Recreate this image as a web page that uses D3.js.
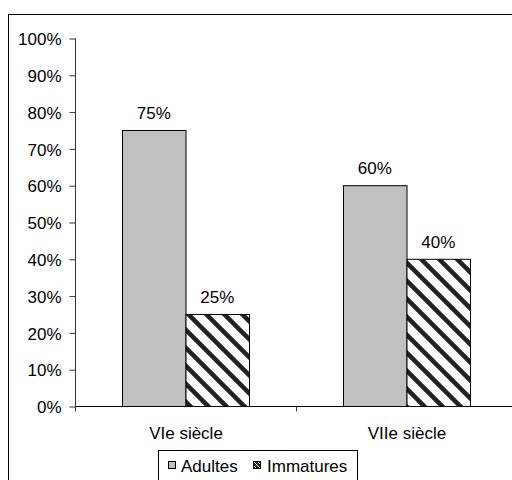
<!DOCTYPE html>
<html><head><meta charset="utf-8">
<script src="https://cdn.jsdelivr.net/npm/d3@7"></script>
<style>body{margin:0;background:#fff}svg{display:block}text{font-family:"Liberation Sans",Arial,sans-serif;fill:#000}</style>
</head><body>
<svg id="c" width="512" height="480"></svg>
<script>
const categories = ["VIe siècle", "VIIe siècle"];
const seriesNames = ["Adultes", "Immatures"];
const adultes = [75, 60];
const immatures = [25, 40];
const yTicks = [0,10,20,30,40,50,60,70,80,90,100];

(function(){
const FS = "17px";
const svg = d3.select("#c");
const defs = svg.append("defs");
const pat = defs.append("pattern").attr("id","hatch").attr("patternUnits","userSpaceOnUse")
  .attr("width",18).attr("height",18);
pat.append("rect").attr("width",18).attr("height",18).attr("fill","#fff");
pat.append("path").attr("d","M-5,-5 L23,23 M-5,13 L5,23 M13,-5 L23,5")
  .attr("stroke","#222").attr("stroke-width",4.5);

// outer border
svg.append("rect").attr("x",8.5).attr("y",14.5).attr("width",520).attr("height",480)
  .attr("fill","none").attr("stroke","#000");

const pL = 75, pR = 517, pT = 38, pB = 406;
const x0 = d3.scaleBand().domain(categories).range([pL, pR]).paddingInner(0).paddingOuter(0);
const y = d3.scaleLinear().domain([0,100]).range([pB, pT]);
const x1 = d3.scaleBand().domain(seriesNames).range([0, 127]);
const groupOffset = (x0.bandwidth() - 127) / 2;

const colors = {"Adultes":"#c0c0c0","Immatures":"url(#hatch)"};
const data = categories.map((c,i)=>({cat:c, vals:[{s:"Adultes",v:adultes[i]},{s:"Immatures",v:immatures[i]}]}));

const g = svg.append("g");
data.forEach(d=>{
  d.vals.forEach(e=>{
    const bx = x0(d.cat) + groupOffset + x1(e.s);
    g.append("rect").attr("x",bx+0.5).attr("y",y(e.v)+0.5)
      .attr("width",x1.bandwidth()).attr("height",pB - y(e.v))
      .attr("fill",colors[e.s]).attr("stroke","#000").attr("stroke-width",1);
    g.append("text").attr("x",bx + x1.bandwidth()/2).attr("y",y(e.v)-11)
      .attr("text-anchor","middle").attr("font-size",FS).text(e.v+"%");
  });
});

// y axis
const yAxis = d3.axisLeft(y).tickValues(yTicks).tickFormat(d=>d+"%").tickSize(6).tickPadding(8);
const ya = svg.append("g").attr("transform",`translate(${pL+0.5},0.5)`).call(yAxis);
ya.select(".domain").attr("stroke","#333").attr("d",`M0,${pT}V${pB}`);
ya.selectAll(".tick line").attr("stroke","#333");
ya.selectAll(".tick text").attr("font-size",FS).attr("font-family","Liberation Sans, Arial, sans-serif").attr("fill","#000").attr("dy","0.36em");

// x axis
const xa = svg.append("g").attr("transform",`translate(0.5,${pB+0.5})`);
xa.append("path").attr("d",`M${pL},0H${pR}`).attr("stroke","#000");
const bounds = [x0(categories[0]), x0(categories[1]), x0(categories[1])+x0.bandwidth()];
xa.selectAll("line.t").data(bounds).join("line").attr("class","t")
  .attr("x1",d=>d).attr("x2",d=>d).attr("y1",0).attr("y2",5).attr("stroke","#333");
xa.selectAll("text").data(categories).join("text")
  .attr("x",d=>x0(d)+x0.bandwidth()/2).attr("y",32).attr("text-anchor","middle")
  .attr("font-size",FS).text(d=>d);

// legend
const lg = svg.append("g");
lg.append("rect").attr("x",158.5).attr("y",450.5).attr("width",199).attr("height",40)
  .attr("fill","#fff").attr("stroke","#000");
const legItems = [{s:"Adultes",sx:168,tx:181},{s:"Immatures",sx:253,tx:267}];
const lpat = defs.append("pattern").attr("id","hatchS").attr("patternUnits","userSpaceOnUse")
  .attr("width",4).attr("height",4);
lpat.append("rect").attr("width",4).attr("height",4).attr("fill","#222");
lpat.append("path").attr("d","M0,0 L4,4").attr("stroke","#fff").attr("stroke-width",1);
legItems.forEach(it=>{
  lg.append("rect").attr("x",it.sx+0.5).attr("y",461.5).attr("width",7).attr("height",7)
    .attr("fill", it.s==="Adultes" ? "#c0c0c0" : "url(#hatchS)").attr("stroke","#000");
  lg.append("text").attr("x",it.tx).attr("y",472).attr("font-size",FS).text(it.s);
});
})();
</script>
</body></html>
